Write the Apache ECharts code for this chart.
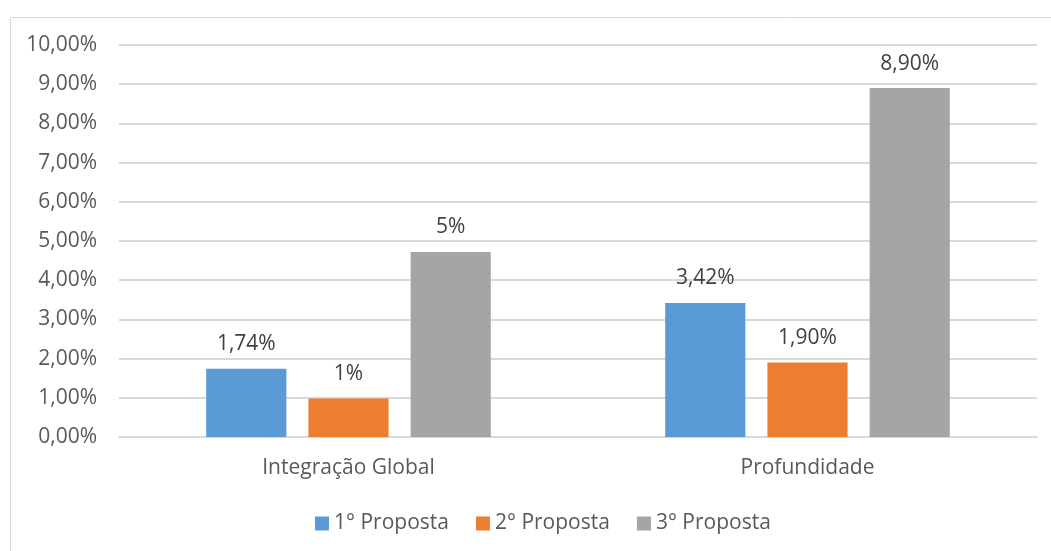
<!DOCTYPE html>
<html>
<head>
<meta charset="utf-8">
<script src="https://cdn.jsdelivr.net/npm/echarts@6/dist/echarts.min.js"></script>
<style>
  html, body { margin: 0; padding: 0; background: #fff; }
  #chart { width: 1051px; height: 551px; }
</style>
</head>
<body>
<div id="chart"></div>
<script>
// Categories, series and their values (fractions; axis shows percent)
const categories = ['Integração Global', 'Profundidade'];
const seriesNames = ['1° Proposta', '2° Proposta', '3° Proposta'];
const proposta1 = [0.0174, 0.0342];
const proposta2 = [0.0098, 0.0190];
const proposta3 = [0.0472, 0.0890];
// Decimal places shown in each series' data labels, per category
const labelDecimals1 = [2, 2];
const labelDecimals2 = [0, 2];
const labelDecimals3 = [0, 2];
const yTicks = { min: 0, max: 0.10, step: 0.01 };

const colors = ['#5B9BD5', '#ED7D31', '#A5A5A5'];
const FONT = '"Open Sans", "Liberation Sans", sans-serif';

function pct(v, d) {
  return (v * 100).toFixed(d).replace('.', ',') + '%';
}

function makeSeries(name, values, decimals, color) {
  return {
    name: name,
    type: 'bar',
    data: values,
    barGap: '27.5%',
    barCategoryGap: '38%',
    itemStyle: { color: color },
    label: {
      show: true,
      position: 'top',
      distance: 14,
      color: '#404040',
      fontFamily: FONT,
      fontSize: 21,
      formatter: p => pct(p.value, decimals[p.dataIndex])
    }
  };
}

const chart = echarts.init(document.getElementById('chart'), null, { renderer: 'canvas' });
chart.setOption({
  animation: false,
  backgroundColor: '#ffffff',
  textStyle: { fontFamily: FONT },
  graphic: [{
    type: 'rect',
    left: 8, top: 15,
    shape: { width: 1100, height: 600 },
    style: { fill: 'none', stroke: '#d9d9d9', lineWidth: 1 },
    silent: true,
    z: -10
  }],
  grid: { left: 119, right: 14, top: 45, bottom: 114, containLabel: false },
  legend: {
    data: seriesNames,
    bottom: 12,
    left: 310,
    icon: 'rect',
    itemWidth: 14,
    itemHeight: 14,
    itemGap: 27,
    textStyle: { color: '#595959', fontFamily: FONT, fontSize: 21 }
  },
  xAxis: {
    type: 'category',
    data: categories,
    axisLine: { show: true, lineStyle: { color: '#d9d9d9', width: 2 } },
    axisTick: { show: false },
    axisLabel: { color: '#595959', fontFamily: FONT, fontSize: 21, margin: 21 }
  },
  yAxis: {
    type: 'value',
    min: yTicks.min,
    max: yTicks.max,
    interval: yTicks.step,
    axisLine: { show: false },
    axisTick: { show: false },
    splitLine: { lineStyle: { color: '#d9d9d9', width: 2 } },
    axisLabel: {
      color: '#595959', fontFamily: FONT, fontSize: 21, margin: 22,
      formatter: v => pct(v, 2)
    }
  },
  series: [
    makeSeries(seriesNames[0], proposta1, labelDecimals1, colors[0]),
    makeSeries(seriesNames[1], proposta2, labelDecimals2, colors[1]),
    makeSeries(seriesNames[2], proposta3, labelDecimals3, colors[2])
  ]
});
</script>
</body>
</html>
